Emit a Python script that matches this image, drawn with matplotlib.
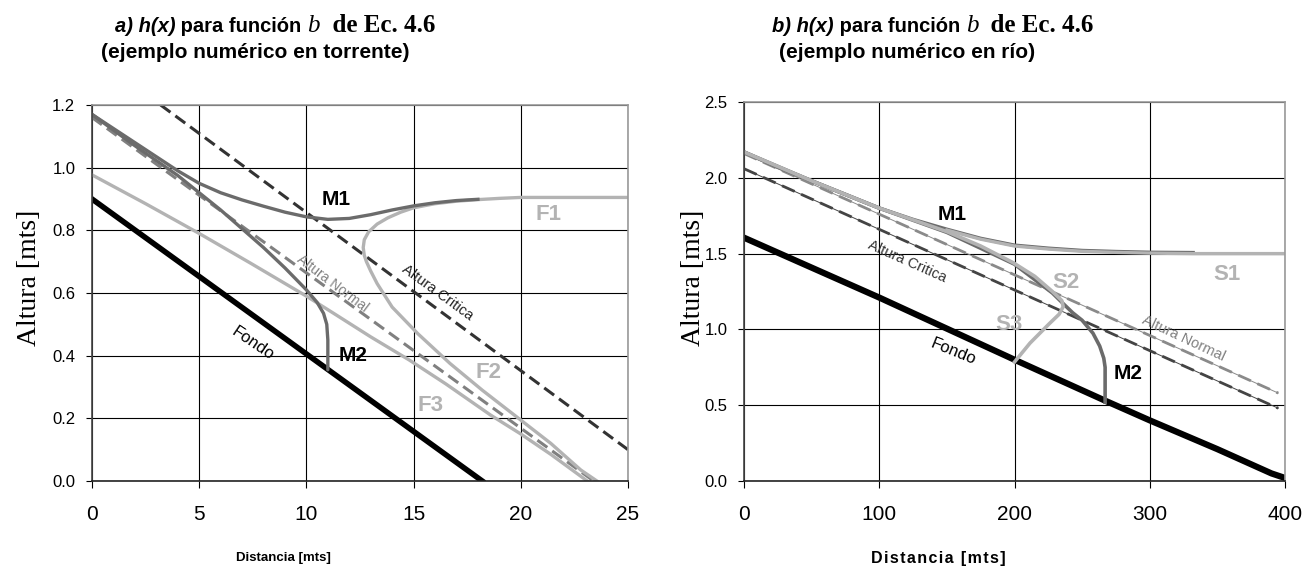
import numpy as np
import matplotlib.pyplot as plt

plt.rcParams['font.family'] = ['Liberation Sans', 'DejaVu Sans']

# ---- a) torrente ----
fondo_a_x = [0, 18.2]
fondo_a_y = [0.90, 0.0]
critica_a_x = [3.2, 25]
critica_a_y = [1.20, 0.10]
normal_a_x = [0, 23.4]
normal_a_y = [1.16, 0.0]
m1_a_x = [0, 1, 2, 3, 4, 5, 6, 7, 8, 9, 10, 11, 12, 13, 14, 15, 16, 17, 18]
m1_a_y = [1.17, 1.125, 1.08, 1.035, 0.99, 0.95, 0.92, 0.897, 0.877, 0.858,
          0.843, 0.835, 0.838, 0.85, 0.865, 0.878, 0.888, 0.895, 0.899]
m2_a_x = [0, 2, 4, 6, 7, 8, 9, 9.5, 10, 10.5, 10.8, 10.95, 11.0, 11.0]
m2_a_y = [1.17, 1.07, 0.975, 0.865, 0.805, 0.745, 0.68, 0.645, 0.61, 0.57,
          0.535, 0.50, 0.45, 0.355]
f12_a_x = [25, 20, 19, 18, 17, 16, 15, 14.4, 13.8, 13.3, 12.9, 12.7, 12.65,
           12.7, 12.8, 13.0, 13.3, 14.0, 15.2, 16.7, 18.2, 19.8, 21.4, 22.8, 23.55]
f12_a_y = [0.905, 0.905, 0.902, 0.898, 0.893, 0.885, 0.872, 0.858, 0.84, 0.82,
           0.795, 0.77, 0.745, 0.72, 0.70, 0.67, 0.63, 0.555, 0.47, 0.375,
           0.29, 0.205, 0.12, 0.035, 0.0]
f3_a_x = [0, 2.5, 5, 7.4, 10, 11.25, 13, 14.8, 16.5, 18.6, 20, 21.4, 22.3, 22.8, 23.1]
f3_a_y = [0.977, 0.885, 0.79, 0.695, 0.59, 0.536, 0.46, 0.386, 0.31, 0.21,
          0.15, 0.085, 0.04, 0.015, 0.0]

# ---- b) rio ----
fondo_b_x = [0, 100, 150, 200, 267, 300, 350, 375, 390, 400]
fondo_b_y = [1.605, 1.21, 1.005, 0.80, 0.53, 0.40, 0.21, 0.11, 0.05, 0.02]
critica_b_x = [0, 395]
critica_b_y = [2.06, 0.48]
normal_b_x = [0, 395]
normal_b_y = [2.16, 0.58]
m1_b_x = [0, 25, 50, 75, 100, 125, 150, 175, 200, 225, 250, 275, 300, 332]
m1_b_y = [2.17, 2.07, 1.98, 1.89, 1.80, 1.725, 1.66, 1.60, 1.555, 1.535,
          1.52, 1.513, 1.508, 1.506]
s1_b_x = [150, 175, 200, 225, 250, 275, 300, 332, 400]
s1_b_y = [1.655, 1.595, 1.55, 1.53, 1.515, 1.508, 1.503, 1.50, 1.50]
s23_b_x = [0, 50, 100, 150, 175, 199, 215, 228, 235, 236, 233, 226, 211.5, 200]
s23_b_y = [2.17, 1.98, 1.80, 1.645, 1.55, 1.44, 1.35, 1.25, 1.19, 1.15,
           1.10, 1.04, 0.91, 0.785]
m2_b_x = [0, 50, 100, 150, 200, 228, 236, 243, 250, 258, 263, 266, 267, 267]
m2_b_y = [2.17, 1.98, 1.80, 1.64, 1.43, 1.24, 1.17, 1.11, 1.06, 0.975,
          0.89, 0.81, 0.75, 0.52]

DARK = '#6b6b6b'
LIGHT = '#b3b3b3'
W, H = 1312, 569

fig = plt.figure(figsize=(13.12, 5.69), dpi=100)
ax1 = fig.add_axes([92 / W, 1 - 481 / H, 536 / W, 376 / H])
ax2 = fig.add_axes([744 / W, 1 - 481 / H, 541 / W, 379 / H])

narrow = ['Liberation Sans Narrow', 'Liberation Sans', 'DejaVu Sans']


def style(ax, xmax, xstep, ymax, ystep):
    ax.set_xlim(0, xmax)
    ax.set_ylim(0, ymax)
    ax.set_xticks(np.arange(0, xmax + 0.1, xstep))
    ax.set_yticks(np.arange(0, ymax + 0.01, ystep))
    ax.set_yticklabels(['%.1f' % v for v in np.arange(0, ymax + 0.01, ystep)])
    ax.grid(True, color='black', linewidth=0.8)
    ax.set_axisbelow(True)
    ax.tick_params(axis='x', direction='out', length=5, width=0.8, pad=12,
                   labelsize=15)
    ax.tick_params(axis='y', direction='out', length=4, width=0.8, pad=8,
                   labelsize=12)
    for lab in ax.get_xticklabels():
        lab.set_family(narrow)
    ax.spines['top'].set_color('#999999')
    ax.spines['right'].set_color('#999999')
    ax.spines['left'].set_color('#444444')
    ax.spines['bottom'].set_color('#222222')
    for s in ax.spines.values():
        s.set_linewidth(1.2)


style(ax1, 25, 5, 1.2, 0.2)
style(ax2, 400, 100, 2.5, 0.5)

# chart a
ax1.plot(normal_a_x, normal_a_y, color='#808080', lw=2.2, dashes=(4, 2))
ax1.plot(critica_a_x, critica_a_y, color='#333333', lw=2.2, dashes=(4, 2))
ax1.plot(fondo_a_x, fondo_a_y, color='black', lw=4)
ax1.plot(f3_a_x, f3_a_y, color=LIGHT, lw=2.4)
ax1.plot(f12_a_x, f12_a_y, color=LIGHT, lw=2.4)
ax1.plot(m2_a_x, m2_a_y, color=DARK, lw=2.4, solid_capstyle='round')
ax1.plot(m1_a_x, m1_a_y, color=DARK, lw=2.4)

lab_b = dict(fontsize=15, fontweight='bold', family=narrow, ha='center', va='center')
ax1.text(11.4, 0.897, 'M1', color='black', **lab_b)
ax1.text(12.2, 0.40, 'M2', color='black', **lab_b)
ax1.text(21.3, 0.85, 'F1', color=LIGHT, **dict(lab_b, fontsize=16))
ax1.text(18.5, 0.345, 'F2', color=LIGHT, **dict(lab_b, fontsize=16))
ax1.text(15.8, 0.24, 'F3', color=LIGHT, **dict(lab_b, fontsize=16))
ax1.text(7.5, 0.44, 'Fondo', fontsize=12, rotation=-34, ha='center',
         va='center', rotation_mode='anchor')
ax1.text(11.2, 0.63, 'Altura Normal', fontsize=10, color='#808080',
         rotation=-37, ha='center', va='center', rotation_mode='anchor')
ax1.text(16.1, 0.60, 'Altura Critica', fontsize=10.5, color='#222222',
         rotation=-36, ha='center', va='center', rotation_mode='anchor')

# chart b
ax2.plot(normal_b_x, normal_b_y, color='#8a8a8a', lw=0.7)
ax2.plot(normal_b_x, normal_b_y, color='#8a8a8a', lw=2.0, dashes=(5, 2.5))
ax2.plot(critica_b_x, critica_b_y, color='#444444', lw=0.7)
ax2.plot(critica_b_x, critica_b_y, color='#444444', lw=2.0, dashes=(5, 2.5))
ax2.plot(fondo_b_x, fondo_b_y, color='black', lw=4.5)
ax2.plot(m2_b_x, m2_b_y, color=DARK, lw=2.6)
ax2.plot(m1_b_x, m1_b_y, color=DARK, lw=2.6)
ax2.plot(s1_b_x, s1_b_y, color=LIGHT, lw=2.4)
ax2.plot(s23_b_x, s23_b_y, color=LIGHT, lw=2.6)

ax2.text(154, 1.76, 'M1', color='black', **lab_b)
ax2.text(284, 0.71, 'M2', color='black', **lab_b)
ax2.text(357, 1.36, 'S1', color=LIGHT, **dict(lab_b, fontsize=16))
ax2.text(238, 1.31, 'S2', color=LIGHT, **dict(lab_b, fontsize=16))
ax2.text(196, 1.03, 'S3', color=LIGHT, **dict(lab_b, fontsize=16))
ax2.text(154.5, 0.85, 'Fondo', fontsize=12, rotation=-22, ha='center',
         va='center', rotation_mode='anchor')
ax2.text(121, 1.445, 'Altura Critica', fontsize=10.5, color='#333333',
         rotation=-24, ha='center', va='center', rotation_mode='anchor')
ax2.text(325, 0.94, 'Altura Normal', fontsize=10.5, color='#808080',
         rotation=-25, ha='center', va='center', rotation_mode='anchor')

# axis labels
for xc in (30, 693):
    fig.text(xc / W, 1 - 278 / H, 'Altura [mts]', family='Liberation Serif',
             fontsize=20, rotation=90, ha='center', va='center')
fig.text(283 / W, 1 - 558 / H, 'Distancia [mts]', fontsize=9.5,
         fontweight='bold', ha='center', va='center')
fig.text(938 / W, 1 - 558 / H, '\u200a'.join('Distancia [mts]'), fontsize=11.5,
         fontweight='bold', ha='center', va='center',
         family=['Liberation Sans', 'DejaVu Sans'])


def rich_line(xc, yb, parts):
    texts = [fig.text(0, yb, s, va='baseline', **kw) for s, kw in parts]
    fig.canvas.draw()
    r = fig.canvas.get_renderer()
    widths = [t.get_window_extent(r).width for t in texts]
    x = xc - sum(widths) / 2
    for t, w in zip(texts, widths):
        t.set_x(x / W)
        x += w


sans_bi = dict(family='Liberation Sans', fontweight='bold', style='italic', fontsize=14.5)
sans_b = dict(family='Liberation Sans', fontweight='bold', fontsize=14.5)
serif_i = dict(family='Liberation Serif', style='italic', fontsize=18)
serif_b = dict(family='Liberation Serif', fontweight='bold', fontsize=18)
sub_b = dict(sans_b, fontsize=15)

for xc1, xc2, letter, sub in ((275, 255, 'a)', '(ejemplo numérico en torrente)'),
                              (933, 907, 'b)', '(ejemplo numérico en río)')):
    rich_line(xc1, 1 - 32 / H, [(letter + ' h(x)', sans_bi),
                                (' para función ', sans_b),
                                ('b', serif_i),
                                ('  de Ec. 4.6', serif_b)])
    fig.text(xc2 / W, 1 - 58 / H, sub, ha='center', va='baseline', **sub_b)

fig.savefig('out.png', dpi=100)
